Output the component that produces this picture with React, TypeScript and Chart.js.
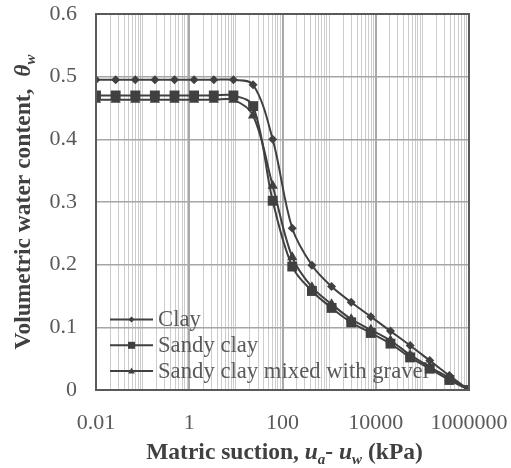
import React, { useEffect, useRef } from 'react';
import { Chart, registerables } from 'chart.js';

Chart.register(...registerables);

// Matric suction (kPa) of the plotted points
const suction = [0.01, 0.0264, 0.0695, 0.183, 0.483, 1.27, 3.36, 8.86, 23.4, 61.6, 162, 428, 1129, 2976, 7848, 20691, 54556, 143845, 379269, 1000000];
// Volumetric water content
const clay = [0.495, 0.495, 0.495, 0.495, 0.495, 0.495, 0.495, 0.495, 0.487, 0.4, 0.258, 0.199, 0.165, 0.14, 0.117, 0.094, 0.071, 0.047, 0.023, 0.0];
const sandyClay = [0.47, 0.47, 0.47, 0.47, 0.47, 0.47, 0.47, 0.47, 0.453, 0.302, 0.197, 0.158, 0.131, 0.108, 0.091, 0.074, 0.052, 0.034, 0.016, 0.0];
const sandyClayGravel = [0.463, 0.463, 0.463, 0.463, 0.463, 0.463, 0.463, 0.463, 0.438, 0.326, 0.212, 0.164, 0.137, 0.113, 0.096, 0.079, 0.056, 0.037, 0.019, 0.0];

const seriesNames = ['Clay', 'Sandy clay', 'Sandy clay mixed with gravel'];
const seriesMarkers = ['rectRot', 'rect', 'triangle'];
const xTickLabels = [0.01, 1, 100, 10000, 1000000];
const yTickLabels = [0, 0.1, 0.2, 0.3, 0.4, 0.5, 0.6];

const SERIES_COLOR = '#404040';
const TEXT_COLOR = '#595959';
const TITLE_COLOR = '#404040';
const FONT = '"Liberation Serif", "Times New Roman", serif';

const isLabelled = (v: number) => xTickLabels.some((l) => Math.abs(v - l) / l < 1e-6);

// log gridline positions: 1..9 x 10^n between the end labels
const gridValues: number[] = (() => {
  const out: number[] = [];
  const e0 = Math.round(Math.log10(xTickLabels[0]));
  const e1 = Math.round(Math.log10(xTickLabels[xTickLabels.length - 1]));
  for (let e = e0; e < e1; e++) {
    for (let m = 1; m <= 9; m++) out.push(parseFloat((m * Math.pow(10, e)).toPrecision(6)));
  }
  out.push(Math.pow(10, e1));
  return out;
})();

type Seg = { t: string; i?: boolean; sub?: boolean };
const xTitle: Seg[] = [
  { t: 'Matric suction, ' },
  { t: 'u', i: true },
  { t: 'a', i: true, sub: true },
  { t: '- ' },
  { t: 'u', i: true },
  { t: 'w', i: true, sub: true },
  { t: ' (kPa)' },
];
const yTitle: Seg[] = [
  { t: 'Volumetric water content,  ' },
  { t: 'θ', i: true },
  { t: 'w', i: true, sub: true },
];

function segFont(s: Seg) {
  return `${s.i ? 'italic ' : ''}bold ${s.sub ? 15 : 23.5}px ${FONT}`;
}

function drawRich(ctx: CanvasRenderingContext2D, segs: Seg[], cx: number, baseline: number) {
  let total = 0;
  for (const s of segs) {
    ctx.font = segFont(s);
    total += ctx.measureText(s.t).width;
  }
  let x = cx - total / 2;
  ctx.textAlign = 'left';
  ctx.textBaseline = 'alphabetic';
  for (const s of segs) {
    ctx.font = segFont(s);
    ctx.fillText(s.t, x, baseline + (s.sub ? 5 : 0));
    x += ctx.measureText(s.t).width;
  }
}

function drawMarker(ctx: CanvasRenderingContext2D, style: string, x: number, y: number, r: number) {
  ctx.beginPath();
  if (style === 'rectRot') {
    ctx.moveTo(x, y - r);
    ctx.lineTo(x + r, y);
    ctx.lineTo(x, y + r);
    ctx.lineTo(x - r, y);
  } else if (style === 'rect') {
    ctx.rect(x - r, y - r, 2 * r, 2 * r);
  } else {
    ctx.moveTo(x, y - r);
    ctx.lineTo(x + r * 0.95, y + r * 0.7);
    ctx.lineTo(x - r * 0.95, y + r * 0.7);
  }
  ctx.closePath();
  ctx.fill();
}

const decorPlugin = {
  id: 'decor',
  beforeDatasetsDraw(chart: any) {
    const { ctx, chartArea } = chart;
    ctx.save();
    // legend
    const legendSizes = [3, 3.5, 3.5];
    seriesNames.forEach((name, i) => {
      const y = chartArea.bottom - 70.5 + i * 25.8;
      const x0 = chartArea.left + 14;
      ctx.strokeStyle = SERIES_COLOR;
      ctx.fillStyle = SERIES_COLOR;
      ctx.lineWidth = 2;
      ctx.beginPath();
      ctx.moveTo(x0, y);
      ctx.lineTo(x0 + 43, y);
      ctx.stroke();
      drawMarker(ctx, seriesMarkers[i], x0 + 21.5, y, legendSizes[i]);
      ctx.fillStyle = TEXT_COLOR;
      ctx.font = `22.7px ${FONT}`;
      ctx.textAlign = 'left';
      ctx.textBaseline = 'middle';
      ctx.fillText(name, x0 + 48, y + 1);
    });
    ctx.restore();
  },
  afterDatasetsDraw(chart: any) {
    const { ctx, chartArea } = chart;
    ctx.save();
    ctx.strokeStyle = '#595959';
    ctx.lineWidth = 2;
    ctx.strokeRect(chartArea.left, chartArea.top, chartArea.right - chartArea.left, chartArea.bottom - chartArea.top);
    ctx.restore();
  },
  afterDraw(chart: any) {
    const { ctx, chartArea } = chart;
    ctx.save();
    ctx.fillStyle = TITLE_COLOR;
    drawRich(ctx, xTitle, (chartArea.left + chartArea.right) / 2 + 2, 459);
    ctx.translate(30, (chartArea.top + chartArea.bottom) / 2);
    ctx.rotate(-Math.PI / 2);
    drawRich(ctx, yTitle, 0, 0);
    ctx.restore();
  },
};

const zeroPadding = (scale: any) => {
  scale.paddingTop = 0;
  scale.paddingBottom = 0;
  scale.paddingLeft = 0;
  scale.paddingRight = 0;
};

export default function App() {
  const ref = useRef<HTMLCanvasElement>(null);
  useEffect(() => {
    document.body.style.margin = '0';
    const mk = (label: string, data: number[], style: string, radius: number) => ({
      label,
      data: suction.map((x, i) => ({ x, y: data[i] })),
      borderColor: SERIES_COLOR,
      backgroundColor: SERIES_COLOR,
      borderWidth: 2,
      pointStyle: style,
      pointRadius: radius,
      pointBorderWidth: 0,
      tension: 0.35,
    });
    const chart = new Chart(ref.current!, {
      type: 'line',
      data: {
        datasets: [
          mk(seriesNames[0], clay, seriesMarkers[0], 4.5),
          mk(seriesNames[1], sandyClay, seriesMarkers[1], 7),
          mk(seriesNames[2], sandyClayGravel, seriesMarkers[2], 6),
        ] as any,
      },
      options: {
        animation: false,
        responsive: false,
        layout: { padding: { top: 14, right: 42, left: 0, bottom: 0 } },
        plugins: { legend: { display: false }, tooltip: { enabled: false } },
        scales: {
          x: {
            type: 'logarithmic',
            min: xTickLabels[0],
            max: xTickLabels[xTickLabels.length - 1],
            afterBuildTicks: (scale: any) => {
              scale.ticks = gridValues.map((v) => ({ value: v }));
            },
            afterFit: (scale: any) => {
              scale.height = 78;
              zeroPadding(scale);
            },
            border: { display: false },
            grid: {
              drawTicks: false,
              color: (c: any) => (isLabelled(c.tick?.value) ? '#a8a8a8' : '#cccccc'),
              lineWidth: (c: any) => (isLabelled(c.tick?.value) ? 2 : 1),
            },
            ticks: {
              autoSkip: false,
              maxRotation: 0,
              minRotation: 0,
              padding: 20,
              color: TEXT_COLOR,
              font: { family: FONT, size: 22 },
              callback: (v: any) => {
                const l = xTickLabels.find((t) => Math.abs(Number(v) - t) / t < 1e-6);
                return l === undefined ? '' : String(l);
              },
            },
          },
          y: {
            min: yTickLabels[0],
            max: yTickLabels[yTickLabels.length - 1],
            afterBuildTicks: (scale: any) => {
              scale.ticks = yTickLabels.map((v) => ({ value: v }));
            },
            afterFit: (scale: any) => {
              scale.width = 96;
              zeroPadding(scale);
            },
            border: { display: false },
            grid: { drawTicks: false, color: '#a6a6a6', lineWidth: 1.5 },
            ticks: {
              padding: 19,
              color: TEXT_COLOR,
              font: { family: FONT, size: 22 },
              callback: (v: any) => (Number(v) === 0 ? '0' : Number(v).toFixed(1)),
            },
          },
        },
      },
      plugins: [decorPlugin],
    } as any);
    return () => chart.destroy();
  }, []);
  return (
    <div style={{ width: 511, height: 468 }}>
      <canvas ref={ref} width={511} height={468} style={{ display: 'block' }} />
    </div>
  );
}
